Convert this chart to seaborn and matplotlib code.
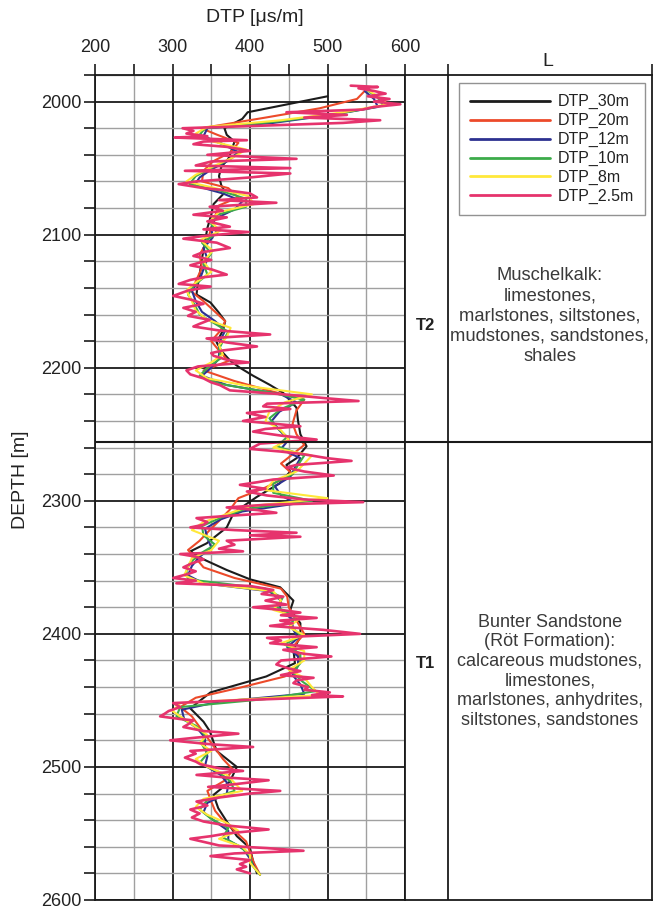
import matplotlib
matplotlib.use("Agg")
import matplotlib.pyplot as plt
from matplotlib.lines import Line2D
import seaborn as sns
import pandas as pd

# ---------------- data ----------------
depth_30 = [1996, 2008, 2013, 2020, 2025, 2030, 2037, 2043, 2049, 2056, 2063, 2068, 2077, 2085,
            2095, 2105, 2118, 2130, 2140, 2145, 2151, 2158, 2165, 2172, 2181, 2188, 2195, 2200,
            2206, 2213, 2219, 2230, 2240, 2250, 2259, 2268, 2273, 2278, 2287, 2297, 2309, 2320,
            2332, 2338, 2344, 2352, 2359, 2365, 2375, 2382, 2392, 2402, 2412, 2422, 2432, 2444,
            2456, 2466, 2473, 2488, 2500, 2511, 2521, 2531, 2541, 2552, 2561, 2571, 2580]
dtp_30 = [500, 397, 390, 367, 370, 380, 376, 372, 363, 360, 363, 368, 353, 350,
          345, 342, 338, 335, 332, 331, 349, 359, 368, 365, 357, 364, 375, 387,
          404, 426, 443, 460, 462, 465, 473, 460, 447, 452, 438, 409, 379, 370,
          344, 323, 340, 370, 400, 439, 456, 452, 465, 465, 456, 458, 421, 349,
          323, 340, 348, 357, 383, 374, 353, 359, 370, 383, 400, 404, 409]

depth_20 = [1992, 1998, 2005, 2012, 2020, 2025, 2031, 2038, 2045, 2052, 2060, 2065, 2072, 2078,
            2086, 2095, 2105, 2115, 2125, 2135, 2143, 2150, 2158, 2165, 2172, 2180, 2187, 2195,
            2202, 2210, 2218, 2224, 2232, 2242, 2250, 2258, 2265, 2272, 2280, 2290, 2298, 2306,
            2314, 2322, 2330, 2337, 2343, 2350, 2358, 2366, 2372, 2380, 2390, 2400, 2410, 2418,
            2425, 2432, 2440, 2448, 2455, 2462, 2470, 2478, 2486, 2494, 2502, 2510, 2518, 2526,
            2533, 2540, 2548, 2556, 2564, 2572, 2581]
dtp_20 = [548, 538, 490, 420, 337, 358, 385, 375, 352, 340, 338, 372, 385, 360,
          355, 350, 345, 335, 338, 330, 325, 340, 355, 368, 362, 350, 360, 372,
          340, 380, 430, 470, 460, 455, 460, 470, 455, 440, 455, 420, 385, 375,
          362, 348, 335, 320, 330, 340, 380, 440, 448, 450, 460, 470, 455, 465,
          460, 445, 390, 330, 310, 325, 335, 345, 355, 365, 378, 368, 345, 350,
          355, 365, 380, 395, 400, 405, 413]

depth_12 = [1992, 1998, 2004, 2010, 2016, 2020, 2026, 2032, 2038, 2045, 2051, 2057, 2063, 2069,
            2075, 2081, 2088, 2095, 2102, 2110, 2118, 2126, 2134, 2142, 2150, 2158, 2165, 2172,
            2179, 2186, 2193, 2200, 2206, 2213, 2220, 2226, 2233, 2240, 2247, 2254, 2261, 2268,
            2275, 2282, 2289, 2296, 2302, 2308, 2314, 2321, 2328, 2335, 2342, 2349, 2356, 2362,
            2368, 2375, 2382, 2389, 2396, 2403, 2410, 2417, 2424, 2431, 2438, 2445, 2451, 2457,
            2464, 2471, 2478, 2485, 2492, 2499, 2506, 2513, 2520, 2527, 2534, 2541, 2548, 2555,
            2562, 2569, 2575, 2581]
dtp_12 = [548, 560, 565, 505, 430, 345, 340, 365, 385, 370, 350, 335, 328, 365,
          390, 380, 355, 350, 352, 340, 345, 340, 335, 325, 330, 338, 355, 368,
          362, 360, 360, 350, 338, 370, 440, 460, 438, 428, 438, 450, 440, 465,
          458, 452, 432, 440, 460, 390, 362, 342, 345, 350, 335, 325, 320, 340,
          425, 440, 438, 455, 455, 462, 448, 462, 462, 455, 465, 470, 360, 312,
          315, 332, 342, 342, 345, 342, 362, 372, 370, 345, 340, 355, 372, 372,
          392, 400, 405, 413]

depth_10 = [1991, 1997, 2003, 2009, 2015, 2020, 2025, 2031, 2037, 2043, 2050, 2056, 2062, 2067,
            2073, 2079, 2085, 2092, 2099, 2106, 2114, 2122, 2130, 2138, 2145, 2152, 2160, 2167,
            2173, 2180, 2186, 2193, 2200, 2206, 2212, 2219, 2224, 2231, 2238, 2245, 2252, 2259,
            2266, 2273, 2280, 2287, 2294, 2300, 2306, 2312, 2319, 2326, 2333, 2340, 2347, 2353,
            2359, 2366, 2373, 2380, 2387, 2394, 2401, 2408, 2415, 2422, 2429, 2436, 2443, 2449,
            2455, 2462, 2469, 2476, 2483, 2490, 2497, 2504, 2511, 2518, 2525, 2532, 2539, 2546,
            2553, 2560, 2567, 2574, 2581]
dtp_10 = [550, 565, 572, 515, 435, 342, 335, 360, 390, 375, 350, 330, 322, 362,
          395, 395, 358, 350, 358, 338, 350, 340, 345, 328, 320, 328, 335, 355,
          372, 365, 360, 362, 345, 335, 360, 430, 470, 440, 425, 435, 448, 435,
          470, 462, 455, 430, 430, 480, 395, 365, 338, 340, 355, 335, 322, 318,
          320, 420, 442, 435, 458, 452, 465, 445, 465, 465, 455, 468, 485, 420,
          310, 305, 330, 342, 338, 345, 335, 360, 375, 380, 345, 335, 350, 372,
          365, 388, 400, 403, 413]

depth_8 = [1990, 1996, 2002, 2008, 2014, 2019, 2024, 2030, 2036, 2042, 2048, 2055, 2060, 2065,
           2071, 2077, 2083, 2090, 2097, 2104, 2112, 2120, 2128, 2136, 2142, 2150, 2157, 2164,
           2170, 2177, 2183, 2190, 2196, 2202, 2208, 2214, 2220, 2226, 2233, 2240, 2247, 2254,
           2260, 2266, 2272, 2278, 2285, 2292, 2298, 2304, 2310, 2316, 2322, 2330, 2337, 2343,
           2350, 2356, 2362, 2368, 2375, 2382, 2388, 2395, 2401, 2407, 2413, 2420, 2427, 2433,
           2440, 2446, 2452, 2458, 2464, 2470, 2476, 2482, 2488, 2494, 2500, 2506, 2512, 2518,
           2524, 2530, 2536, 2542, 2548, 2554, 2560, 2566, 2572, 2581]
dtp_8 = [548, 565, 578, 520, 440, 345, 330, 352, 395, 378, 355, 330, 318, 355,
         398, 405, 360, 348, 362, 336, 352, 340, 350, 330, 318, 325, 330, 345,
         375, 370, 360, 365, 350, 330, 345, 400, 480, 445, 425, 420, 440, 450,
         430, 480, 470, 460, 430, 420, 500, 400, 370, 340, 325, 360, 350, 325,
         320, 315, 340, 430, 440, 430, 465, 450, 470, 440, 470, 470, 450, 470,
         480, 490, 310, 300, 315, 330, 345, 335, 350, 330, 345, 370, 380, 390,
         340, 330, 345, 370, 385, 360, 390, 400, 400, 413]

depth_2p5 = [1988, 1989, 1990, 1992, 1994, 1996, 1998, 2000, 2002, 2004, 2006, 2008, 2010, 2012,
             2014, 2016, 2018, 2020, 2022, 2024, 2026, 2027, 2029, 2030, 2032, 2034, 2037, 2040,
             2043, 2045, 2048, 2050, 2052, 2054, 2057, 2060, 2062, 2065, 2067, 2069, 2072, 2074,
             2076, 2079, 2082, 2085, 2087, 2090, 2092, 2094, 2096, 2098, 2101, 2103, 2106, 2110,
             2113, 2116, 2119, 2121, 2123, 2126, 2130, 2132, 2134, 2137, 2139, 2142, 2146, 2149,
             2152, 2155, 2158, 2161, 2164, 2167, 2169, 2172, 2175, 2178, 2181, 2184, 2187, 2189,
             2191, 2194, 2196, 2199, 2202, 2205, 2208, 2211, 2213, 2217, 2220, 2223, 2225, 2227,
             2229, 2231, 2234, 2237, 2240, 2242, 2244, 2246, 2248, 2251, 2254, 2257, 2261, 2263,
             2265, 2268, 2270, 2273, 2275, 2278, 2281, 2284, 2286, 2288, 2291, 2293, 2296, 2299,
             2301, 2303, 2305, 2307, 2309, 2311, 2313, 2316, 2318, 2320, 2322, 2324, 2326, 2327,
             2330, 2333, 2336, 2338, 2340, 2342, 2344, 2347, 2350, 2353, 2355, 2358, 2360, 2362,
             2364, 2367, 2370, 2372, 2375, 2378, 2380, 2382, 2384, 2386, 2388, 2390, 2392, 2394,
             2397, 2400, 2403, 2405, 2407, 2410, 2412, 2415, 2417, 2420, 2423, 2426, 2428, 2431,
             2433, 2435, 2437, 2440, 2442, 2444, 2446, 2447, 2450, 2452, 2455, 2458, 2460, 2462,
             2464, 2465, 2468, 2470, 2473, 2475, 2478, 2480, 2483, 2485, 2488, 2490, 2493, 2496,
             2498, 2501, 2503, 2506, 2508, 2510, 2513, 2515, 2518, 2520, 2523, 2526, 2529, 2532,
             2535, 2538, 2541, 2544, 2547, 2550, 2552, 2554, 2557, 2559, 2561, 2563, 2565, 2567,
             2570, 2573, 2575, 2577, 2580]
dtp_2p5 = [530, 565, 540, 560, 575, 552, 580, 560, 594, 560, 545, 447, 525, 470,
           568, 520, 420, 313, 327, 318, 345, 303, 396, 340, 327, 370, 400, 345,
           460, 350, 330, 452, 316, 452, 400, 330, 308, 340, 375, 400, 409, 360,
           434, 348, 365, 327, 370, 345, 360, 374, 340, 398, 340, 314, 357, 374,
           340, 327, 350, 335, 323, 350, 370, 340, 323, 308, 349, 320, 301, 325,
           340, 314, 330, 320, 348, 335, 327, 360, 426, 344, 370, 409, 365, 350,
           353, 370, 398, 333, 318, 323, 340, 350, 361, 374, 443, 500, 540, 422,
           417, 452, 396, 420, 391, 430, 465, 420, 404, 440, 486, 413, 400, 440,
           469, 500, 531, 460, 447, 470, 508, 430, 410, 387, 420, 396, 422, 470,
           546, 420, 370, 410, 434, 380, 331, 345, 340, 323, 380, 460, 400, 465,
           370, 380, 360, 391, 310, 330, 340, 325, 314, 330, 320, 301, 330, 305,
           400, 430, 415, 443, 420, 447, 404, 440, 465, 440, 486, 439, 455, 426,
           495, 542, 422, 440, 426, 486, 443, 470, 505, 440, 434, 450, 465, 440,
           482, 460, 456, 475, 470, 503, 480, 520, 380, 301, 310, 295, 290, 284,
           310, 327, 320, 314, 340, 385, 330, 297, 350, 404, 323, 330, 316, 330,
           336, 360, 391, 331, 370, 424, 380, 346, 439, 400, 360, 331, 345, 323,
           335, 325, 340, 370, 424, 370, 350, 323, 345, 360, 422, 469, 380, 349,
           400, 387, 395, 383, 400]

series_names = ["DTP_30m", "DTP_20m", "DTP_12m", "DTP_10m", "DTP_8m", "DTP_2.5m"]
series_depths = [depth_30, depth_20, depth_12, depth_10, depth_8, depth_2p5]
series_values = [dtp_30, dtp_20, dtp_12, dtp_10, dtp_8, dtp_2p5]
series_colors = ["#1c1c1c", "#ec4a2a", "#2d3190", "#3cab4a", "#ffe83a", "#e6336d"]
series_widths = [1.5, 1.5, 1.5, 1.5, 1.5, 1.9]

x_major = [200, 300, 400, 500, 600]
x_minor = [250, 350, 450, 550]
y_major = [2000, 2100, 2200, 2300, 2400, 2500, 2600]
y_minor = list(range(1980, 2601, 20))
boundary_depth = 2256

text_T2 = "Muschelkalk:\nlimestones,\nmarlstones, siltstones,\nmudstones, sandstones,\nshales"
text_T1 = ("Bunter Sandstone\n(Röt Formation):\ncalcareous mudstones,\nlimestones,\n"
           "marlstones, anhydrites,\nsiltstones, sandstones")

# ---------------- figure ----------------
sns.set_theme(style="white")
plt.rcParams["font.family"] = ["Liberation Sans", "DejaVu Sans"]

W, H = 655, 910
fig = plt.figure(figsize=(W / 100, H / 100), dpi=100)

def fx(px):
    return px / W

def fy(py):
    return 1 - py / H

ax = fig.add_axes([fx(95), fy(900), (405 - 95) / W, (900 - 75) / H])
ax2 = fig.add_axes([fx(405), fy(900), (652 - 405) / W, (900 - 75) / H])

for name, d, v, c, lw in zip(series_names, series_depths, series_values, series_colors, series_widths):
    df = pd.DataFrame({"depth": d, "dtp": v})
    sns.lineplot(data=df, x="dtp", y="depth", sort=False, estimator=None,
                 color=c, lw=lw, ax=ax, zorder=3)

ax.set_xlim(200, 600)
ax.set_ylim(2600, 1980)
ax.xaxis.tick_top()
ax.set_xticks(x_major)
ax.set_xticks(x_minor, minor=True)
ax.set_yticks(y_major)
ax.set_yticks(y_minor, minor=True)
ax.set_xticklabels([str(t) for t in x_major])
ax.set_yticklabels([str(t) for t in y_major])
ax.tick_params(axis="x", which="both", direction="out", length=8, width=1.2,
               color="#1a1a1a", labelsize=13, pad=6, labelcolor="#222222",
               top=True, bottom=False)
ax.tick_params(axis="y", which="both", direction="out", length=8, width=1.2,
               color="#1a1a1a", labelsize=13, pad=2, labelcolor="#222222", left=True)
ax.grid(which="major", color="#1a1a1a", lw=1.3, zorder=1)
ax.grid(which="minor", color="#a0a0a0", lw=1.0, zorder=0)
ax.set_axisbelow(True)
ax.set_xlabel("")
ax.set_ylabel("")
for s in ax.spines.values():
    s.set_color("#1a1a1a")
    s.set_linewidth(1.3)
ax.axhline(boundary_depth, color="#1a1a1a", lw=1.5, zorder=4)

# right-hand columns
ax2.set_xlim(0, 1)
ax2.set_ylim(2600, 1980)
ax2.set_yticks([])
ax2.xaxis.tick_top()
col_div = (448 - 405) / (652 - 405)
ax2.set_xticks([col_div, 1.0])
ax2.set_xticklabels([])
ax2.tick_params(axis="x", direction="out", length=8, width=1.2, color="#1a1a1a", top=True, bottom=False)
ax2.axvline(col_div, color="#1a1a1a", lw=1.3)
ax2.axhline(boundary_depth, color="#1a1a1a", lw=1.5)
ax2.set_facecolor("white")
for s in ax2.spines.values():
    s.set_color("#1a1a1a")
    s.set_linewidth(1.3)
ax2.grid(False)

# texts
fig.text(fx(255), fy(18), "DTP [μs/m]", ha="center", va="center", fontsize=14, color="#222222")
fig.text(fx(21), fy(480), "DEPTH [m]", ha="center", va="center", rotation=90, fontsize=14, color="#222222")
fig.text(fx(548), fy(62), "L", ha="center", va="center", fontsize=14, color="#222222")
fig.text(fx(426), fy(325), "T2", ha="center", va="center", fontsize=12, fontweight="bold", color="#222222")
fig.text(fx(426), fy(663), "T1", ha="center", va="center", fontsize=12, fontweight="bold", color="#222222")
fig.text(fx(550), fy(316), text_T2, ha="center", va="center", multialignment="center",
         fontsize=13.2, linespacing=1.24, color="#3a3a3a")
fig.text(fx(550), fy(671), text_T1, ha="center", va="center", multialignment="center",
         fontsize=13.0, linespacing=1.19, color="#3a3a3a")

# legend
handles = [Line2D([0], [0], color=c, lw=2.0) for c in series_colors]
leg = fig.legend(handles, series_names, loc="upper left",
                 bbox_to_anchor=(fx(459), fy(83)), bbox_transform=fig.transFigure,
                 frameon=True, fancybox=False, edgecolor="#777777", fontsize=11.5,
                 handlelength=5.0, handletextpad=0.5, labelspacing=0.24,
                 borderpad=0.7, borderaxespad=0)
leg.get_frame().set_linewidth(1.0)
for t in leg.get_texts():
    t.set_color("#222222")

fig.savefig("out.png", dpi=100)
